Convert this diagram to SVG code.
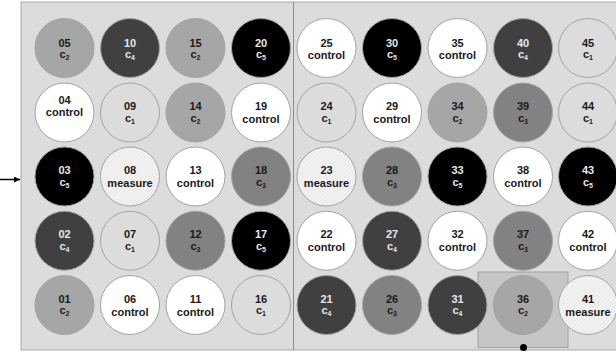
<svg xmlns="http://www.w3.org/2000/svg" width="616" height="352" viewBox="0 0 616 352">
<defs>
<pattern id="hatch" width="3" height="3" patternUnits="userSpaceOnUse" patternTransform="rotate(45)">
<rect width="3" height="3" fill="#f3f3f3"/>
<line x1="0" y1="0" x2="0" y2="3" stroke="#dcdcdc" stroke-width="1"/>
</pattern>
<marker id="arr" viewBox="0 0 10 10" refX="10" refY="5" markerWidth="6" markerHeight="6" orient="auto" markerUnits="userSpaceOnUse">
<path d="M0,0 L10,5 L0,10 z" fill="#000"/>
</marker>
</defs>
<style>
circle.w{stroke:#a3a3a3;stroke-width:1}
.control{fill:#ffffff}
.measure{fill:url(#hatch)}
.c1{fill:#dcdcdc}
.c2{fill:#a6a6a6}
.c3{fill:#828282}
.c4{fill:#404040}
.c5{fill:#000000}
text{font-family:"Liberation Sans",Arial,sans-serif;font-weight:bold;font-size:11px;text-anchor:middle;fill:#1a1a1a}
text.lt{fill:#e8e8e8}
tspan.s{font-size:7px}
</style>
<rect x="21" y="2" width="600" height="348" fill="#dcdcdc" stroke="#a8a8a8" stroke-width="1"/>
<line x1="293.5" y1="2" x2="293.5" y2="350" stroke="#8a8a8a" stroke-width="1"/>
<rect x="478" y="272" width="90" height="75.5" fill="#c6c6c6" stroke="#a0a0a0" stroke-width="1"/>
<g id="connectors">
<line x1="0" y1="179.5" x2="20" y2="179.5" stroke="#000" stroke-width="1.5" marker-end="url(#arr)"/>
<circle cx="523.5" cy="347.5" r="3.5" fill="#000"/>
</g>
<g id="w05"><circle class="w c2" cx="64.5" cy="48" r="29.5"/><text x="64.5" y="46.5">05</text><text x="64.5" y="57.5">c<tspan class="s" dy="2">2</tspan></text></g>
<g id="w04"><circle class="w control" cx="64.5" cy="112.5" r="29.5"/><text x="64.5" y="104">04</text><text x="64.5" y="116">control</text></g>
<g id="w03"><circle class="w c5" cx="64.5" cy="176.5" r="29.5"/><text class="lt" x="64.5" y="174">03</text><text class="lt" x="64.5" y="185.5">c<tspan class="s" dy="2">5</tspan></text></g>
<g id="w02"><circle class="w c4" cx="64.5" cy="240.75" r="29.5"/><text class="lt" x="64.5" y="238.25">02</text><text class="lt" x="64.5" y="249.75">c<tspan class="s" dy="2">4</tspan></text></g>
<g id="w01"><circle class="w c2" cx="64.5" cy="305" r="29.5"/><text x="64.5" y="302.5">01</text><text x="64.5" y="314">c<tspan class="s" dy="2">2</tspan></text></g>

<g id="w10"><circle class="w c4" cx="130" cy="48" r="29.5"/><text class="lt" x="130" y="46.5">10</text><text class="lt" x="130" y="57.5">c<tspan class="s" dy="2">4</tspan></text></g>
<g id="w09"><circle class="w c1" cx="130" cy="112.5" r="29.5"/><text x="130" y="110">09</text><text x="130" y="121.5">c<tspan class="s" dy="2">1</tspan></text></g>
<g id="w08"><circle class="w measure" cx="130" cy="176.5" r="29.5"/><text x="130" y="174">08</text><text x="130" y="187">measure</text></g>
<g id="w07"><circle class="w c1" cx="130" cy="240.75" r="29.5"/><text x="130" y="238.25">07</text><text x="130" y="249.75">c<tspan class="s" dy="2">1</tspan></text></g>
<g id="w06"><circle class="w control" cx="130" cy="305" r="29.5"/><text x="130" y="302.5">06</text><text x="130" y="315.5">control</text></g>

<g id="w15"><circle class="w c2" cx="195.5" cy="48" r="29.5"/><text x="195.5" y="46.5">15</text><text x="195.5" y="57.5">c<tspan class="s" dy="2">2</tspan></text></g>
<g id="w14"><circle class="w c2" cx="195.5" cy="112.5" r="29.5"/><text x="195.5" y="110">14</text><text x="195.5" y="121.5">c<tspan class="s" dy="2">2</tspan></text></g>
<g id="w13"><circle class="w control" cx="195.5" cy="176.5" r="29.5"/><text x="195.5" y="174">13</text><text x="195.5" y="187">control</text></g>
<g id="w12"><circle class="w c3" cx="195.5" cy="240.75" r="29.5"/><text x="195.5" y="238.25">12</text><text x="195.5" y="249.75">c<tspan class="s" dy="2">3</tspan></text></g>
<g id="w11"><circle class="w control" cx="195.5" cy="305" r="29.5"/><text x="195.5" y="302.5">11</text><text x="195.5" y="315.5">control</text></g>

<g id="w20"><circle class="w c5" cx="261" cy="48" r="29.5"/><text class="lt" x="261" y="46.5">20</text><text class="lt" x="261" y="57.5">c<tspan class="s" dy="2">5</tspan></text></g>
<g id="w19"><circle class="w control" cx="261" cy="112.5" r="29.5"/><text x="261" y="110">19</text><text x="261" y="123">control</text></g>
<g id="w18"><circle class="w c3" cx="261" cy="176.5" r="29.5"/><text x="261" y="174">18</text><text x="261" y="185.5">c<tspan class="s" dy="2">3</tspan></text></g>
<g id="w17"><circle class="w c5" cx="261" cy="240.75" r="29.5"/><text class="lt" x="261" y="238.25">17</text><text class="lt" x="261" y="249.75">c<tspan class="s" dy="2">5</tspan></text></g>
<g id="w16"><circle class="w c1" cx="261" cy="305" r="29.5"/><text x="261" y="302.5">16</text><text x="261" y="314">c<tspan class="s" dy="2">1</tspan></text></g>

<g id="w25"><circle class="w control" cx="326.5" cy="48" r="29.5"/><text x="326.5" y="46.5">25</text><text x="326.5" y="59">control</text></g>
<g id="w24"><circle class="w c1" cx="326.5" cy="112.5" r="29.5"/><text x="326.5" y="110">24</text><text x="326.5" y="121.5">c<tspan class="s" dy="2">1</tspan></text></g>
<g id="w23"><circle class="w measure" cx="326.5" cy="176.5" r="29.5"/><text x="326.5" y="174">23</text><text x="326.5" y="187">measure</text></g>
<g id="w22"><circle class="w control" cx="326.5" cy="240.75" r="29.5"/><text x="326.5" y="238.25">22</text><text x="326.5" y="251.25">control</text></g>
<g id="w21"><circle class="w c4" cx="326.5" cy="305" r="29.5"/><text class="lt" x="326.5" y="302.5">21</text><text class="lt" x="326.5" y="314">c<tspan class="s" dy="2">4</tspan></text></g>

<g id="w30"><circle class="w c5" cx="392" cy="48" r="29.5"/><text class="lt" x="392" y="46.5">30</text><text class="lt" x="392" y="57.5">c<tspan class="s" dy="2">5</tspan></text></g>
<g id="w29"><circle class="w control" cx="392" cy="112.5" r="29.5"/><text x="392" y="110">29</text><text x="392" y="123">control</text></g>
<g id="w28"><circle class="w c3" cx="392" cy="176.5" r="29.5"/><text x="392" y="174">28</text><text x="392" y="185.5">c<tspan class="s" dy="2">3</tspan></text></g>
<g id="w27"><circle class="w c4" cx="392" cy="240.75" r="29.5"/><text class="lt" x="392" y="238.25">27</text><text class="lt" x="392" y="249.75">c<tspan class="s" dy="2">4</tspan></text></g>
<g id="w26"><circle class="w c3" cx="392" cy="305" r="29.5"/><text x="392" y="302.5">26</text><text x="392" y="314">c<tspan class="s" dy="2">3</tspan></text></g>

<g id="w35"><circle class="w control" cx="457.5" cy="48" r="29.5"/><text x="457.5" y="46.5">35</text><text x="457.5" y="59">control</text></g>
<g id="w34"><circle class="w c2" cx="457.5" cy="112.5" r="29.5"/><text x="457.5" y="110">34</text><text x="457.5" y="121.5">c<tspan class="s" dy="2">2</tspan></text></g>
<g id="w33"><circle class="w c5" cx="457.5" cy="176.5" r="29.5"/><text class="lt" x="457.5" y="174">33</text><text class="lt" x="457.5" y="185.5">c<tspan class="s" dy="2">5</tspan></text></g>
<g id="w32"><circle class="w control" cx="457.5" cy="240.75" r="29.5"/><text x="457.5" y="238.25">32</text><text x="457.5" y="251.25">control</text></g>
<g id="w31"><circle class="w c4" cx="457.5" cy="305" r="29.5"/><text class="lt" x="457.5" y="302.5">31</text><text class="lt" x="457.5" y="314">c<tspan class="s" dy="2">4</tspan></text></g>

<g id="w40"><circle class="w c4" cx="523" cy="48" r="29.5"/><text class="lt" x="523" y="46.5">40</text><text class="lt" x="523" y="57.5">c<tspan class="s" dy="2">4</tspan></text></g>
<g id="w39"><circle class="w c3" cx="523" cy="112.5" r="29.5"/><text x="523" y="110">39</text><text x="523" y="121.5">c<tspan class="s" dy="2">3</tspan></text></g>
<g id="w38"><circle class="w control" cx="523" cy="176.5" r="29.5"/><text x="523" y="174">38</text><text x="523" y="187">control</text></g>
<g id="w37"><circle class="w c3" cx="523" cy="240.75" r="29.5"/><text x="523" y="238.25">37</text><text x="523" y="249.75">c<tspan class="s" dy="2">3</tspan></text></g>
<g id="w36"><circle class="w c2" cx="523" cy="305" r="29.5"/><text x="523" y="302.5">36</text><text x="523" y="314">c<tspan class="s" dy="2">2</tspan></text></g>

<g id="w45"><circle class="w c1" cx="588" cy="48" r="29.5"/><text x="588" y="46.5">45</text><text x="588" y="57.5">c<tspan class="s" dy="2">1</tspan></text></g>
<g id="w44"><circle class="w c1" cx="588" cy="112.5" r="29.5"/><text x="588" y="110">44</text><text x="588" y="121.5">c<tspan class="s" dy="2">1</tspan></text></g>
<g id="w43"><circle class="w c5" cx="588" cy="176.5" r="29.5"/><text class="lt" x="588" y="174">43</text><text class="lt" x="588" y="185.5">c<tspan class="s" dy="2">5</tspan></text></g>
<g id="w42"><circle class="w control" cx="588" cy="240.75" r="29.5"/><text x="588" y="238.25">42</text><text x="588" y="251.25">control</text></g>
<g id="w41"><circle class="w measure" cx="588" cy="305" r="29.5"/><text x="588" y="302.5">41</text><text x="588" y="315.5">measure</text></g>
</svg>
